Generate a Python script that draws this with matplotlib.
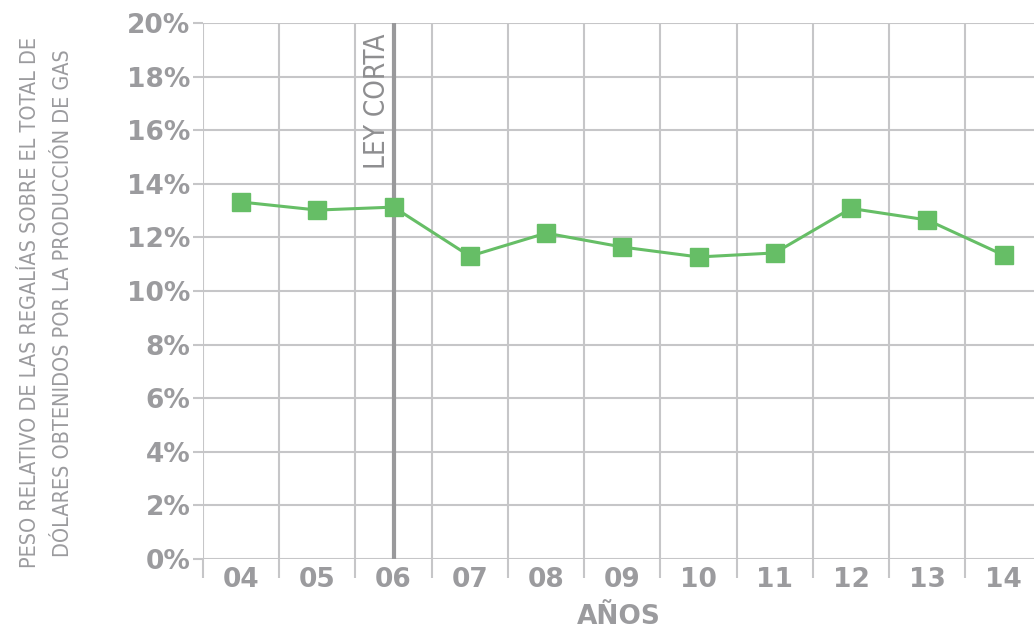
import numpy as np
import matplotlib.pyplot as plt

years = ['04', '05', '06', '07', '08', '09', '10', '11', '12', '13', '14']
share = [13.32, 13.02, 13.13, 11.30, 12.16, 11.64, 11.27, 11.42, 13.08, 12.65, 11.34]
y_ticks = [0, 2, 4, 6, 8, 10, 12, 14, 16, 18, 20]
ley_corta_year = '06'

grey = '#9b9b9e'
grid_grey = '#c6c6c8'
green = '#66be66'

fig = plt.figure(figsize=(10.34, 6.31), dpi=100)
ax = fig.add_axes([203 / 1034, 1 - 559 / 631, 1 - 203 / 1034, (559 - 23) / 631])

x = np.arange(len(years))
ax.plot(x, share, color=green, lw=2.2, marker='s', markersize=13.5, zorder=4)

# law change marker
xl = years.index(ley_corta_year)
ax.axvline(xl, color='#99999b', lw=3, zorder=3)
ax.text(xl - 0.04, 19.6, 'LEY CORTA', rotation=90, ha='right', va='top',
        fontsize=20, color='#8e8e90', family='DejaVu Sans', fontstretch='condensed')

ax.set_xlim(-0.5, 10.4)
ax.set_ylim(0, 20)
ax.set_yticks(y_ticks)
ax.set_yticklabels([f'{v}%' for v in y_ticks])
ax.set_xticks(x)
ax.set_xticklabels(years)
ax.set_xticks(np.arange(len(years)) - 0.5, minor=True)

ax.grid(axis='y', color=grid_grey, lw=1.5)
ax.grid(axis='x', which='minor', color=grid_grey, lw=1.5)
ax.set_axisbelow(True)
for s in ax.spines.values():
    s.set_visible(False)

ax.tick_params(axis='x', which='major', length=0, pad=6, labelsize=19, labelcolor=grey)
ax.tick_params(axis='x', which='minor', length=14, width=1.5, color=grid_grey, direction='out')
ax.tick_params(axis='y', length=7, width=1.5, color=grid_grey, pad=2, labelsize=19, labelcolor=grey)
for lab in ax.get_xticklabels() + ax.get_yticklabels():
    lab.set_fontweight('bold')

ax.set_xlabel('AÑOS', fontsize=19, fontweight='bold', color=grey, labelpad=8)
fig.text(0.045, 0.52, 'PESO RELATIVO DE LAS REGALÍAS SOBRE EL TOTAL DE\nDÓLARES OBTENIDOS POR LA PRODUCCIÓN DE GAS',
         rotation=90, ha='center', va='center', fontsize=15.5, color=grey,
         family='DejaVu Sans', fontstretch='condensed', linespacing=1.8)

fig.savefig('out.png', dpi=100)
